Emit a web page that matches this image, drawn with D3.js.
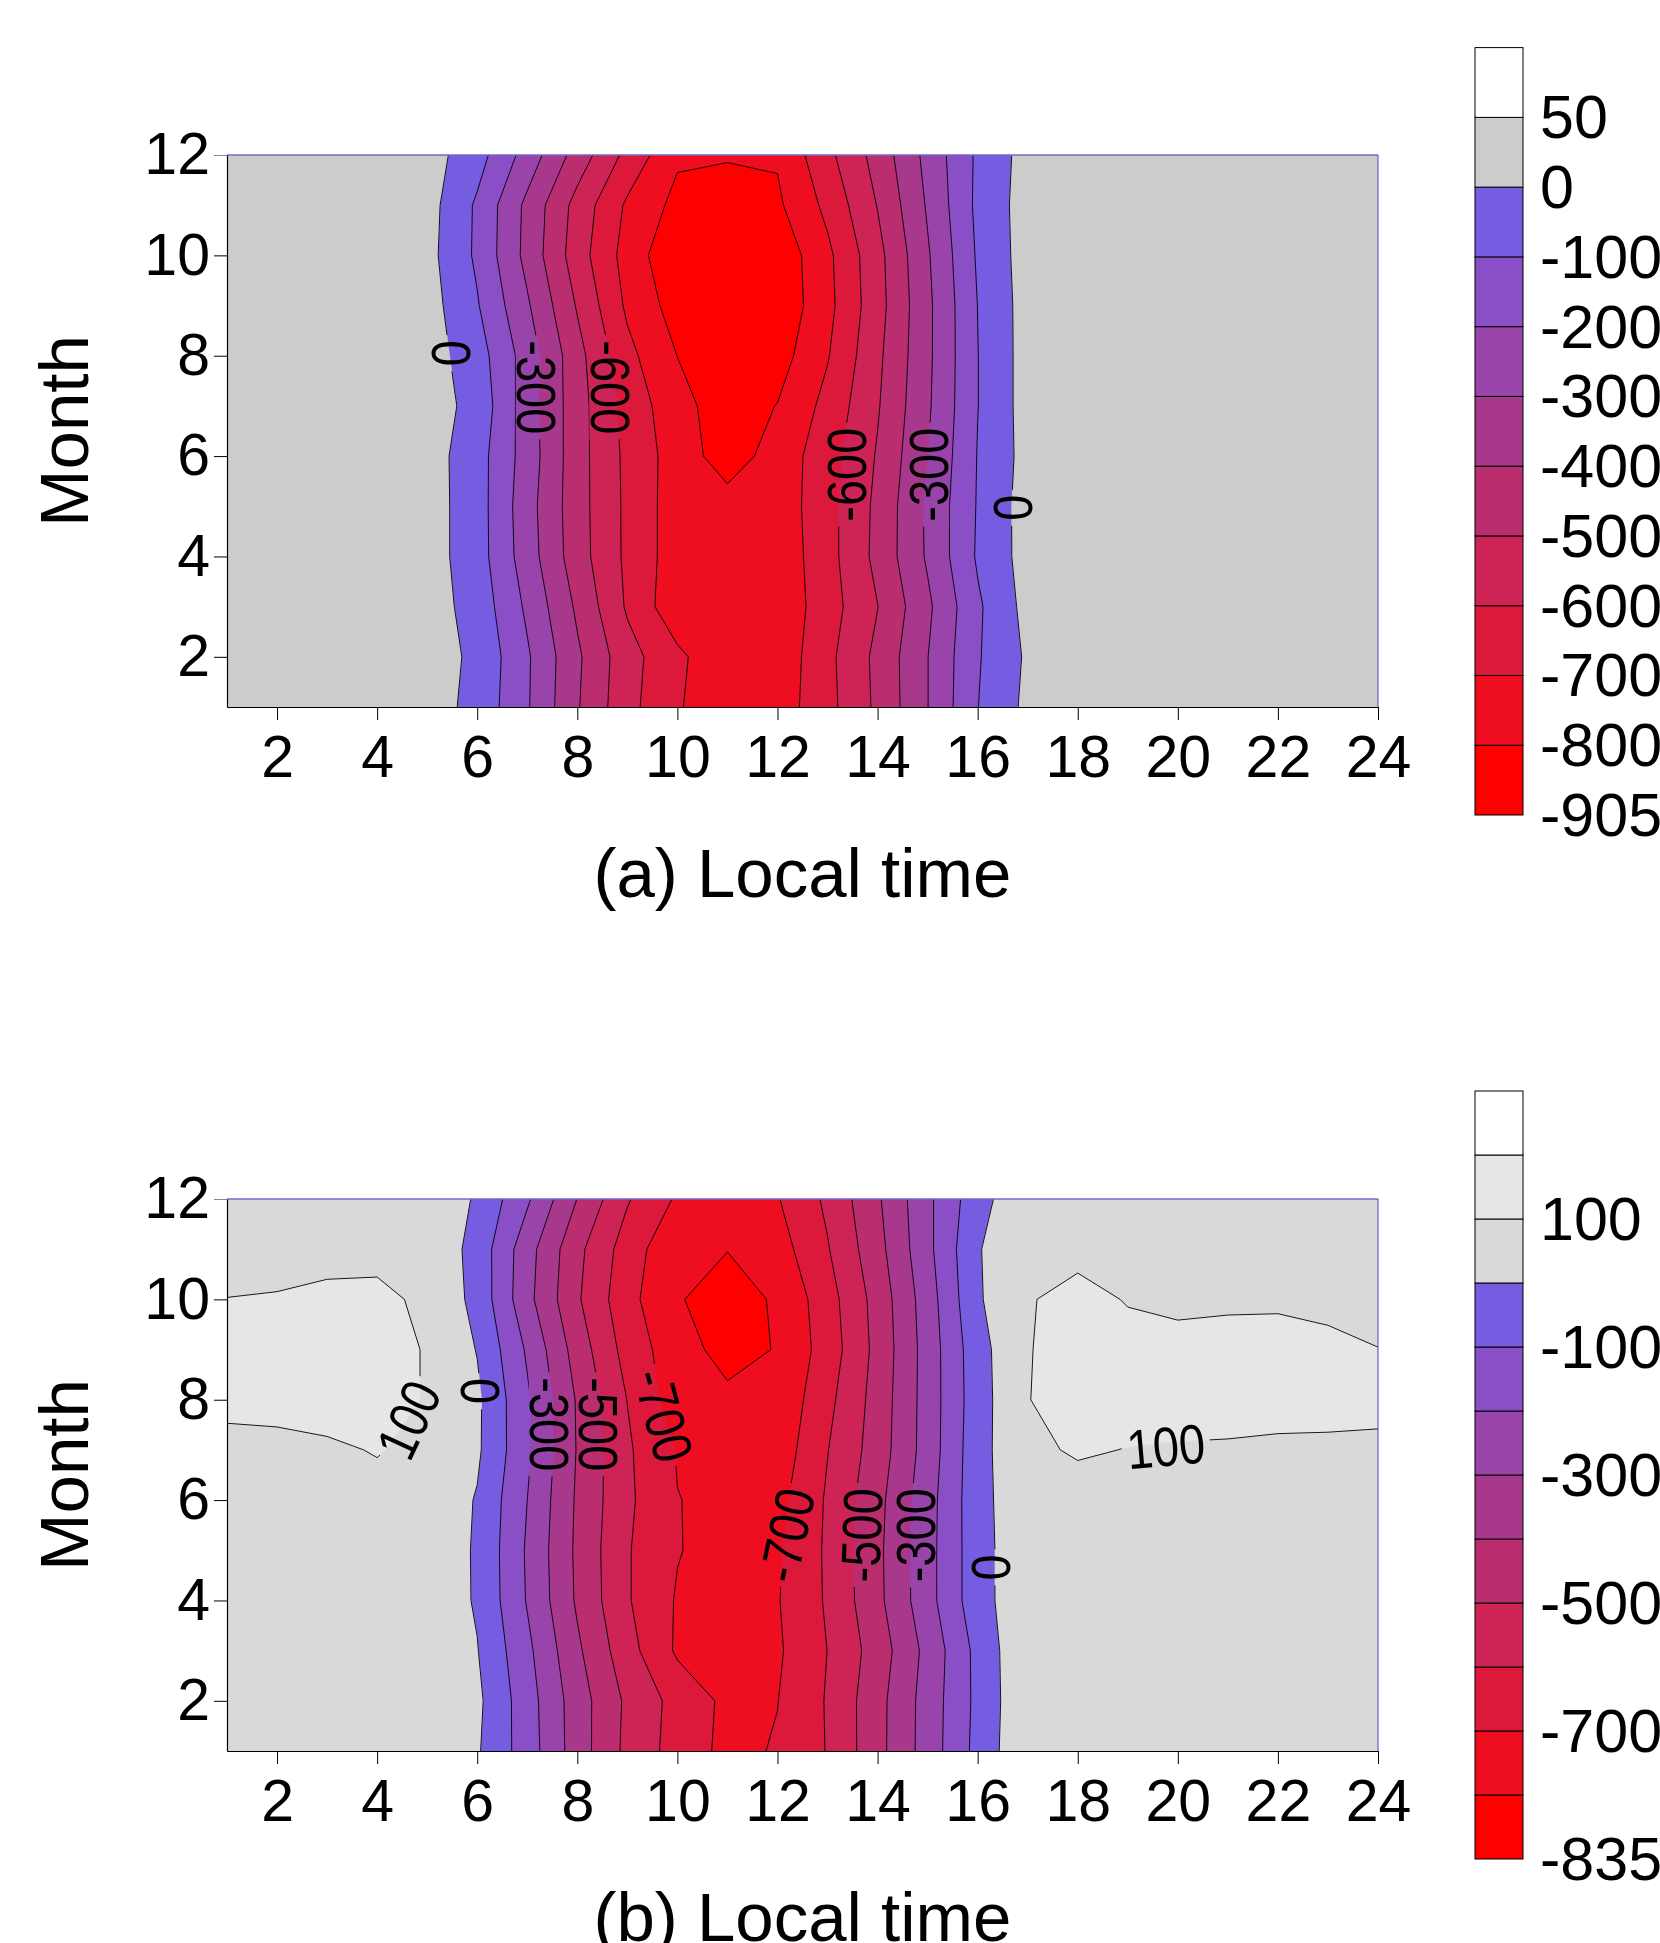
<!DOCTYPE html>
<html><head><meta charset="utf-8">
<script src="https://cdnjs.cloudflare.com/ajax/libs/d3/7.8.5/d3.min.js"></script>
<style>
html,body{margin:0;padding:0;background:#fff;}
svg text{font-family:"Liberation Sans",Arial,Helvetica,sans-serif;fill:#000;}
</style></head><body>
<svg id="chart" width="1660" height="1943"></svg>
<script>
// ---------------- data ----------------
const hours  = [1,2,3,4,5,6,7,8,9,10,11,12,13,14,15,16,17,18,19,20,21,22,23,24];
const months = [1,2,3,4,5,6,7,8,9,10,11,12];
const xTicks = [2,4,6,8,10,12,14,16,18,20,22,24];
const yTicks = [2,4,6,8,10,12];

// panel (a): rows = months 1..12, columns = local time 1..24
const gridA = [
 [28,27,27,30,45,-30,-190,-391,-570,-687,-795,-754,-631,-480,-302,-102,24,26,27,28,28,27,27,28],
 [29,28,28,30,45,-20,-187,-383,-562,-677,-782,-768,-626,-475,-302,-109,15,25,27,28,28,28,27,28],
 [30,30,30,32,45,-38,-218,-417,-613,-771,-780,-773,-645,-502,-320,-116,33,30,30,30,30,30,30,30],
 [30,31,31,33,45,-55,-252,-456,-621,-753,-770,-768,-637,-472,-287,-88,41,32,31,31,30,30,30,30],
 [32,32,33,35,45,-55,-260,-460,-621,-753,-761,-760,-635,-477,-283,-93,44,34,33,32,32,32,32,32],
 [33,33,34,36,45,-58,-245,-460,-624,-748,-848,-759,-643,-491,-302,-96,36,34,33,33,33,33,33,33],
 [34,34,35,37,45,-31,-252,-458,-635,-767,-850,-797,-670,-509,-315,-102,42,35,34,34,34,34,34,34],
 [33,33,34,36,45,-55,-245,-465,-672,-801,-880,-844,-707,-522,-321,-102,42,34,33,33,33,33,33,33],
 [32,32,33,35,43,-92,-287,-509,-718,-844,-900,-877,-729,-538,-322,-99,42,33,32,32,32,32,32,32],
 [31,31,31,33,33,-117,-330,-553,-740,-883,-905,-872,-722,-532,-311,-88,45,32,31,31,31,31,31,31],
 [30,30,31,33,40,-115,-324,-536,-716,-828,-845,-817,-675,-496,-289,-78,45,31,30,30,30,30,30,30],
 [29,29,30,32,44,-60,-240,-442,-629,-785,-792,-790,-626,-462,-270,-83,39,30,29,29,29,29,29,29]
];

// panel (b)
const gridB = [
 [58,57,58,60,60,11,-150,-350,-526,-641,-727,-692,-595,-432,-256,-69,91,65,63,62,62,61,60,60],
 [58,58,60,62,65,21,-156,-352,-519,-635,-722,-702,-592,-433,-258,-75,88,66,64,63,62,62,61,60],
 [60,60,62,64,65,4,-176,-382,-562,-715,-750,-714,-599,-454,-270,-71,90,67,65,64,64,63,62,62],
 [62,62,63,65,70,-10,-207,-414,-591,-709,-740,-706,-588,-425,-236,-38,72,66,65,65,64,64,63,63],
 [62,63,64,66,70,-11,-212,-419,-592,-695,-740,-713,-585,-422,-236,-38,72,67,66,66,65,65,64,64],
 [60,62,65,78,75,-7,-200,-414,-581,-698,-720,-732,-588,-430,-240,-35,75,70,67,67,66,66,66,65],
 [66,73,89,104,80,16,-182,-406,-586,-706,-730,-760,-603,-453,-256,-35,85,108,98,95,93,88,88,87],
 [130,132,130,130,95,18,-185,-410,-602,-753,-780,-779,-627,-460,-257,-42,98,130,128,125,125,125,122,118],
 [128,135,132,130,95,-4,-213,-445,-639,-761,-833,-795,-655,-470,-257,-37,97,125,122,117,122,125,114,101],
 [101,104,110,112,90,-30,-270,-487,-668,-794,-835,-790,-642,-462,-248,-12,95,122,96,88,90,90,85,80],
 [75,78,85,85,80,-35,-260,-474,-647,-783,-798,-744,-607,-434,-226,-7,80,80,70,70,70,70,70,70],
 [60,62,65,70,80,-12,-185,-402,-591,-713,-745,-706,-581,-414,-222,-37,80,67,65,65,65,65,65,65]
];

// colour-scale band boundaries (bottom → top) and the ones that carry labels
const boundsA = [-905,-800,-700,-600,-500,-400,-300,-200,-100,0,50];
const labelsBarA = ["-905","-800","-700","-600","-500","-400","-300","-200","-100","0","50"];
const boundsB = [-835,-800,-700,-600,-500,-400,-300,-200,-100,0,100,200];
const labelsBarB = ["-835","","-700","","-500","","-300","","-100","","100",""];

// contour labels: text, local time, month, angle
const contourLabelsA = [
 {t:"0",    h:5.49,  m:8.05, a:90},
 {t:"-300", h:7.19,  m:7.37, a:90},
 {t:"-600", h:8.66,  m:7.37, a:90},
 {t:"-600", h:13.38, m:5.63, a:-90},
 {t:"-300", h:15.01, m:5.63, a:-90},
 {t:"0",    h:16.70, m:4.97, a:-90}
];
const contourLabelsB = [
 {t:"100",  h:4.63,  m:7.60, a:-65},
 {t:"0",    h:6.06,  m:8.17, a:90},
 {t:"-300", h:7.45,  m:7.51, a:90},
 {t:"-500", h:8.42,  m:7.51, a:90},
 {t:"-700", h:9.72,  m:7.69, a:75},
 {t:"-700", h:12.19, m:5.30, a:-78},
 {t:"-500", h:13.68, m:5.30, a:-88},
 {t:"-300", h:14.75, m:5.30, a:-90},
 {t:"0",    h:16.26, m:4.66, a:-90},
 {t:"100",  h:19.76, m:7.07, a:-5}
];

// ---------------- styles ----------------
const ramp = ["#ff0000","#ee0e20","#dc193a","#cd2355","#ba2e70","#a8388c","#9944aa","#8a4fc7","#765ce0"];
const coloursA = ramp.concat(["#cccccc","#ffffff"]);
const coloursB = ramp.concat(["#d9d9d9","#e6e6e6","#ffffff"]);

const svg = d3.select("#chart");
const defs = svg.append("defs");
const X0 = 227, X1 = 1378;

function panel(id, grid, bounds, colours, top, bottom, cLabels, barTop, barBottom, barLabels, title) {
  const x = d3.scaleLinear().domain([1, 24]).range([X0, X1]);
  const y = d3.scaleLinear().domain([1, 12]).range([bottom, top]);
  const levels = bounds.slice(1);
  const values = grid.flat();
  const contours = d3.contours().size([hours.length, months.length]).thresholds(levels)(values);
  const proj = d3.geoTransform({point: function(px, py) {
    this.stream.point(x(px + 0.5), y(py + 0.5));
  }});
  const path = d3.geoPath(proj);

  defs.append("clipPath").attr("id", "clip" + id)
    .append("rect").attr("x", X0).attr("y", top).attr("width", X1 - X0).attr("height", bottom - top);

  const g = svg.append("g").attr("clip-path", `url(#clip${id})`);
  g.append("rect").attr("x", X0).attr("y", top).attr("width", X1 - X0).attr("height", bottom - top)
    .attr("fill", colours[0]);
  g.selectAll("path.fill").data(contours).enter().append("path")
    .attr("class", "fill").attr("d", d => path(d)).attr("fill", (d, i) => colours[i + 1])
    .attr("stroke", (d, i) => colours[i + 1]).attr("stroke-width", 0.5);

  // mask for label gaps in contour lines
  const mask = defs.append("mask").attr("id", "mask" + id)
    .attr("maskUnits", "userSpaceOnUse").attr("x", 0).attr("y", 0).attr("width", 1660).attr("height", 1943);
  mask.append("rect").attr("x", 0).attr("y", 0).attr("width", 1660).attr("height", 1943).attr("fill", "white");

  const lines = g.append("g").attr("mask", `url(#mask${id})`);
  lines.selectAll("path").data(contours).enter().append("path")
    .attr("d", d => path(d)).attr("fill", "none").attr("stroke", "#000").attr("stroke-width", 0.9);

  const lg = svg.append("g");
  cLabels.forEach(d => {
    const tr = `translate(${x(d.h)},${y(d.m)}) rotate(${d.a})`;
    const t = lg.append("text").attr("transform", tr + " scale(1,1.18)")
      .attr("text-anchor", "middle").attr("dominant-baseline", "central")
      .style("font-size", "47px").text(d.t);
    const w = t.node().getComputedTextLength();
    mask.append("rect").attr("transform", tr).attr("x", -w / 2 - 5).attr("y", -21)
      .attr("width", w + 10).attr("height", 42).attr("fill", "black");
  });

  // frame: top & right edges
  svg.append("line").attr("x1", X0).attr("x2", X1).attr("y1", top).attr("y2", top)
    .attr("stroke", "#7466c8").attr("stroke-width", 1.6);
  svg.append("line").attr("x1", X1).attr("x2", X1).attr("y1", top).attr("y2", bottom)
    .attr("stroke", "#6a5cc0").attr("stroke-width", 1.2);

  // axes
  const ax = svg.append("g").attr("transform", `translate(0,${bottom})`)
    .call(d3.axisBottom(x).tickValues(xTicks).tickSize(13).tickSizeOuter(0).tickPadding(15));
  const ay = svg.append("g").attr("transform", `translate(${X0},0)`)
    .call(d3.axisLeft(y).tickValues(yTicks).tickSize(13).tickSizeOuter(0).tickPadding(4));
  [ax, ay].forEach(a => {
    a.attr("font-family", null).attr("font-size", null);
    a.selectAll("text").style("font-size", "59px").attr("fill", "#000");
    a.selectAll("line").attr("stroke", "#000").attr("stroke-width", 1);
    a.select(".domain").attr("stroke", "#000").attr("stroke-width", 1.2);
  });
  ay.selectAll(".tick").filter(d => d === 12).select("line").attr("stroke", "#888");

  svg.append("text").attr("x", (X0 + X1) / 2).attr("y", bottom + 190).attr("text-anchor", "middle")
    .style("font-size", "69px").text(title);
  svg.append("text").attr("transform", `translate(88,${(top + bottom) / 2}) rotate(-90)`)
    .attr("text-anchor", "middle").style("font-size", "69px").text("Month");

  // colour bar
  const n = bounds.length;
  const by = d3.scaleLinear().domain([0, n]).range([barBottom, barTop]);
  const bar = svg.append("g");
  d3.range(n).forEach(i => {
    bar.append("rect").attr("x", 1475).attr("width", 48)
      .attr("y", by(i + 1)).attr("height", by(i) - by(i + 1))
      .attr("fill", colours[i]).attr("stroke", "#000").attr("stroke-width", 1);
  });
  barLabels.forEach((s, i) => {
    if (!s) return;
    bar.append("text").attr("x", 1540).attr("y", by(i)).attr("dominant-baseline", "central")
      .style("font-size", "61px").text(s);
  });
}

panel("A", gridA, boundsA, coloursA, 155, 707, contourLabelsA, 47.6, 815, labelsBarA, "(a) Local time");
panel("B", gridB, boundsB, coloursB, 1199, 1751, contourLabelsB, 1091, 1859, labelsBarB, "(b) Local time");
</script>
</body></html>
